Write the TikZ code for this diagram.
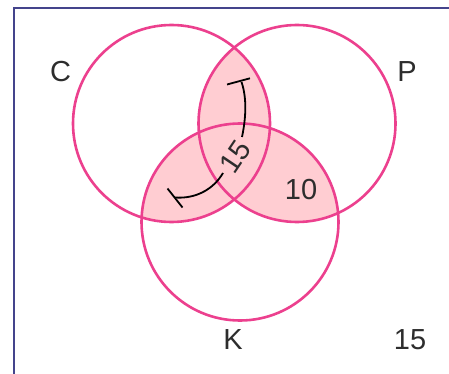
\documentclass[tikz,border=0pt]{standalone}
\usepackage{fontspec}
\setmainfont{Liberation Sans}
\usetikzlibrary{calc}

\definecolor{ringpink}{RGB}{236,64,142}
\definecolor{lenspink}{RGB}{255,205,210}
\definecolor{framenavy}{RGB}{68,68,140}
\definecolor{labelgrey}{RGB}{45,45,45}

\begin{document}
\begin{tikzpicture}[x=1pt, y=-1pt, font=\fontsize{29}{34}\selectfont,
    ring/.style={draw=ringpink, line width=2.6pt},
    tag/.style={text=labelgrey, inner sep=0pt},
    brace/.style={black, line width=1.8pt}]
  \useasboundingbox (0,0) rectangle (449,374);
  % three sets C, P, K of equal radius; the pairwise overlaps are shaded
  \def\rad{98.5pt}
  \coordinate (c) at (171.5,123.5);
  \coordinate (p) at (297,123.5);
  \coordinate (k) at (240,222);
  % frame, only its top and left edge show
  \draw[framenavy, line width=2pt] (14,374) -- (14,8) -- (449,8);
  \begin{scope}
    \clip (c) circle (\rad);
    \fill[lenspink] (p) circle (\rad) (k) circle (\rad);
  \end{scope}
  \begin{scope}
    \clip (p) circle (\rad);
    \fill[lenspink] (k) circle (\rad);
  \end{scope}
  \foreach \s in {c,p,k} \draw[ring] (\s) circle (\rad);
  % set names and counts
  \node[tag] (cname) at (60.5,72) {C};
  \node[tag] (pname) at (407,72) {P};
  \node[tag] (kname) at (233,340) {K};
  \node[tag] (outside) at (410,340) {15};
  \node[tag] (pk) at (301,190) {10};
  \node[tag, rotate=56] (span) at (235,157) {15};
  % bracket arc spanning C and P, C and K, with the count in its gap
  \coordinate (topend) at (241.5,82);
  \coordinate (lowend) at (175,197.5);
  \draw[brace] (242,137) .. controls (246,118) and (247,98) .. (topend);
  \draw[brace] (223,173) .. controls (213,190) and (195,199) .. (lowend);
  \draw[brace] (227,84.5) -- (250,78.3);
  \draw[brace] (167.5,188.5) -- (182.5,207.5);
\end{tikzpicture}
\end{document}
